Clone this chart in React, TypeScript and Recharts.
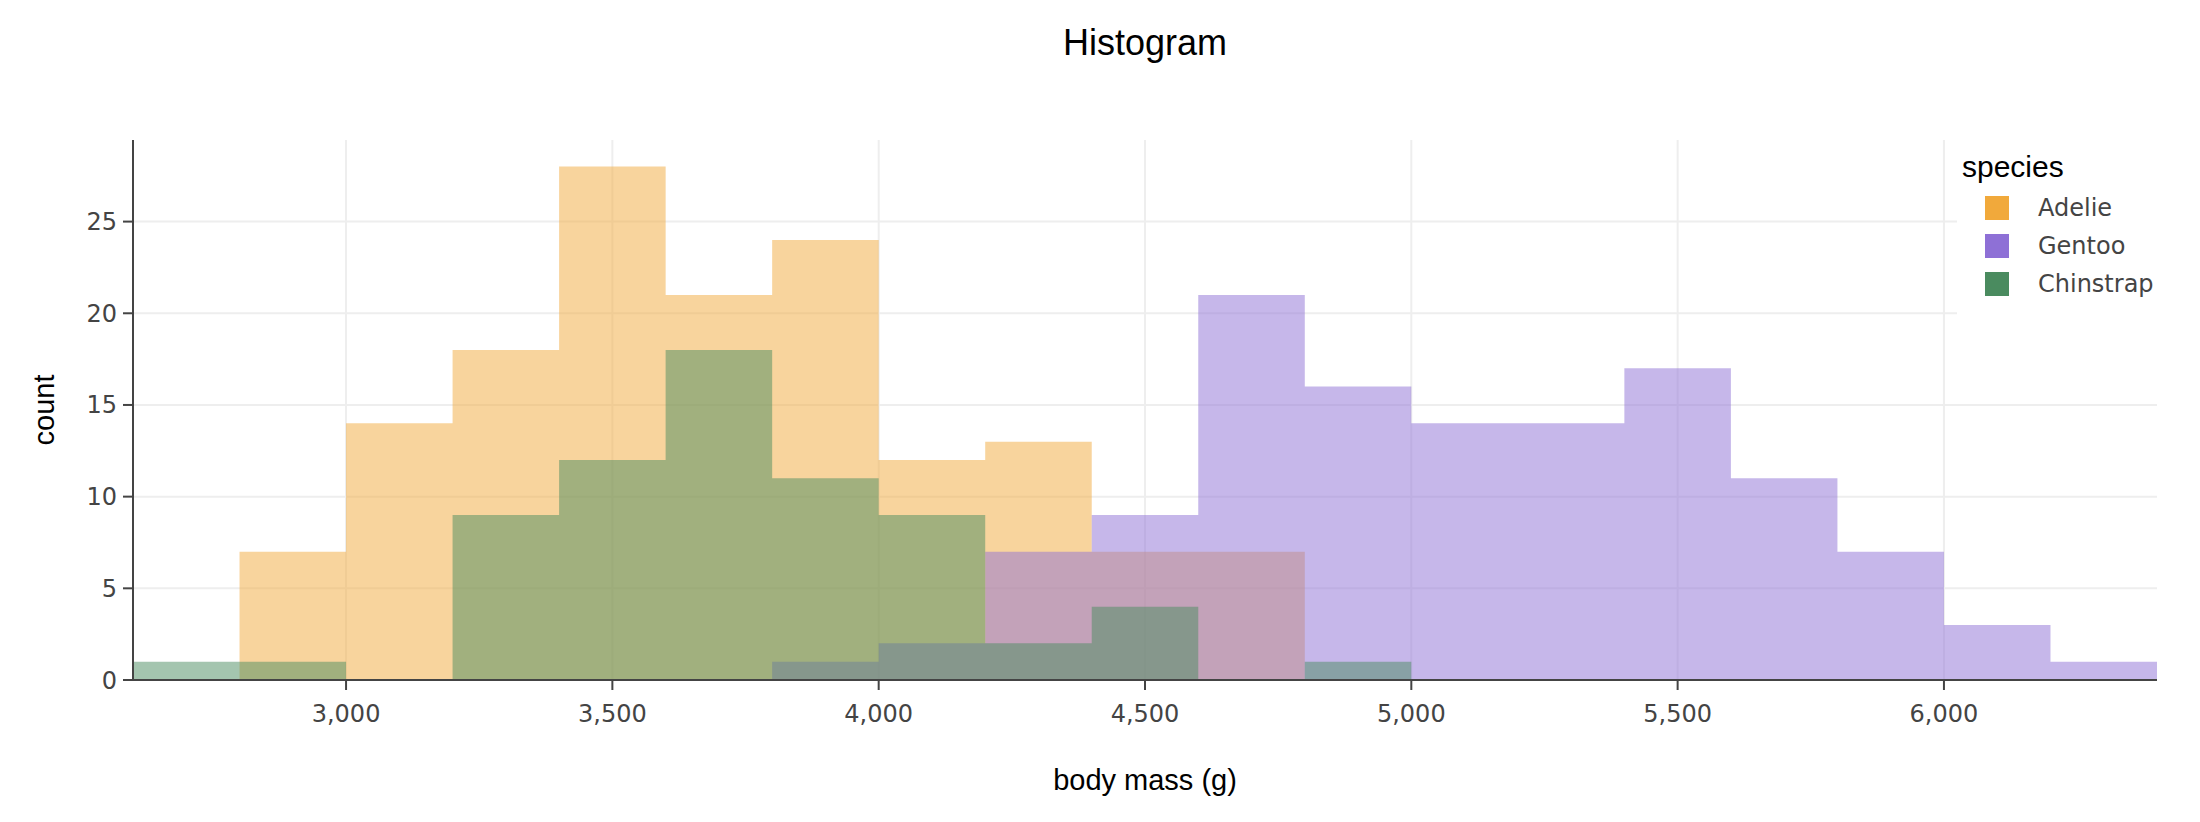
import { ComposedChart, Area, XAxis, YAxis, CartesianGrid, Label } from 'recharts';

// bin starts (g), 200 g wide
const binStarts = [2600, 2800, 3000, 3200, 3400, 3600, 3800, 4000, 4200, 4400, 4600, 4800, 5000, 5200, 5400, 5600, 5800, 6000, 6200];
const binWidth = 200;

const adelie = [0, 7, 14, 18, 28, 21, 24, 12, 13, 7, 7, 0, 0, 0, 0, 0, 0, 0, 0];
const gentoo = [0, 0, 0, 0, 0, 0, 1, 2, 7, 9, 21, 16, 14, 14, 17, 11, 7, 3, 1];
const chinstrap = [1, 1, 0, 9, 12, 18, 11, 9, 2, 4, 0, 1, 0, 0, 0, 0, 0, 0, 0];

const xTicks = [3000, 3500, 4000, 4500, 5000, 5500, 6000];
const yTicks = [0, 5, 10, 15, 20, 25];

const species = [
  { key: 'adelie', name: 'Adelie', color: '#f1a93b' },
  { key: 'gentoo', name: 'Gentoo', color: '#8e70d6' },
  { key: 'chinstrap', name: 'Chinstrap', color: '#4a8b5f' },
];

// step areas need a point at each bin edge, the last edge repeats the last bin
const last = binStarts.length - 1;
const data = [
  ...binStarts.map((x, i) => ({ x, adelie: adelie[i], gentoo: gentoo[i], chinstrap: chinstrap[i] })),
  { x: binStarts[last] + binWidth, adelie: adelie[last], gentoo: gentoo[last], chinstrap: chinstrap[last] },
];

const tickFont = { fontFamily: 'DejaVu Sans', fontSize: 24, fill: '#444' };
const titleFont = "'Liberation Sans', Arial, sans-serif";

export default function App() {
  return (
    <div style={{ position: 'absolute', left: 0, top: 0, width: 2200, height: 822, background: '#fff' }}>
      <div
        style={{
          position: 'absolute', left: 133, width: 2024, top: 25, textAlign: 'center',
          fontFamily: titleFont, fontSize: 36, lineHeight: '36px', color: '#000',
        }}
      >
        Histogram
      </div>

      <ComposedChart width={2200} height={822} data={data} margin={{ top: 140, right: 43, bottom: 82, left: 73 }}>
        <CartesianGrid stroke="#eeeeee" strokeWidth={2} horizontalValues={yTicks.slice(1)} verticalValues={xTicks} />
        <XAxis
          dataKey="x"
          type="number"
          domain={[2600, 6400]}
          ticks={xTicks}
          tickFormatter={(v: number) => v.toLocaleString('en-US')}
          height={60}
          tick={tickFont}
          tickSize={10}
          tickMargin={15}
          tickLine={{ stroke: '#444', strokeWidth: 2 }}
          axisLine={{ stroke: '#444', strokeWidth: 2 }}
        >
          <Label
            content={(props: any) => {
              const vb = props.viewBox;
              return (
                <text x={vb.x + vb.width / 2} y={vb.y + 110} textAnchor="middle" fontFamily={titleFont} fontSize={29} fill="#000">
                  body mass (g)
                </text>
              );
            }}
          />
        </XAxis>
        <YAxis
          type="number"
          domain={[0, 29.45]}
          ticks={yTicks}
          width={60}
          tick={tickFont}
          tickSize={10}
          tickMargin={6}
          tickLine={{ stroke: '#444', strokeWidth: 2 }}
          axisLine={{ stroke: '#444', strokeWidth: 2 }}
        >
          <Label
            content={(props: any) => {
              const vb = props.viewBox;
              const cx = 54;
              const cy = vb.y + vb.height / 2;
              return (
                <text x={cx} y={cy} transform={`rotate(-90, ${cx}, ${cy})`} textAnchor="middle" fontFamily={titleFont} fontSize={29} fill="#000">
                  count
                </text>
              );
            }}
          />
        </YAxis>
        {species.map((s) => (
          <Area
            key={s.key}
            type="stepAfter"
            dataKey={s.key}
            name={s.name}
            fill={s.color}
            fillOpacity={0.5}
            stroke="none"
            isAnimationActive={false}
          />
        ))}
      </ComposedChart>

      <div style={{ position: 'absolute', left: 1957, top: 140, width: 243, height: 180, background: '#fff' }}>
        <div style={{ position: 'absolute', left: 5, top: 12, fontFamily: titleFont, fontSize: 30, lineHeight: '30px', color: '#000' }}>
          species
        </div>
        {species.map((s, i) => (
          <div key={s.key} style={{ position: 'absolute', left: 28, top: 56 + i * 38, height: 24, display: 'flex', alignItems: 'center' }}>
            <div style={{ width: 24, height: 24, background: s.color }} />
            <span style={{ marginLeft: 29, fontFamily: 'DejaVu Sans', fontSize: 24, color: '#444' }}>{s.name}</span>
          </div>
        ))}
      </div>
    </div>
  );
}
